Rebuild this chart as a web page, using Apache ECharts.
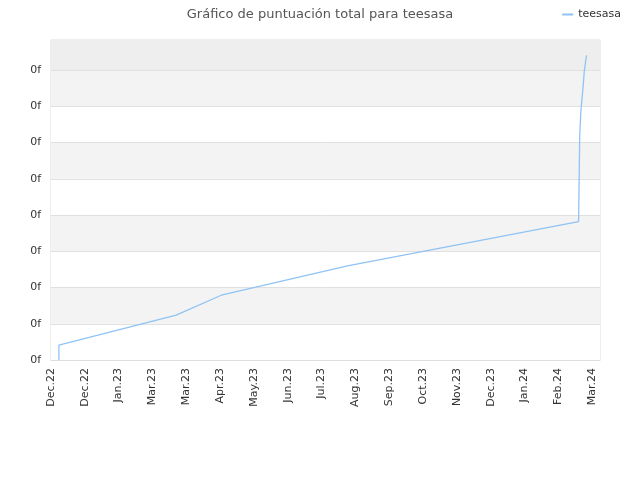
<!DOCTYPE html>
<html>
<head>
<meta charset="utf-8">
<script src="https://cdn.jsdelivr.net/npm/echarts@6/dist/echarts.min.js"></script>
<style>
	html, body { margin: 0; padding: 0; background: #fff; }
	#show { width: 640px; height: 480px; }
</style>
</head>
<body>
<div id="show"></div>
<script>
// fechas y puntuaciones
var fechas = ['2022-12-08', '2022-12-08', '2023-03-22', '2023-05-02', '2023-08-21',
	'2024-03-13', '2024-03-14', '2024-03-15', '2024-03-17', '2024-03-18', '2024-03-20'];
var puntos = [0, 0.41, 1.24, 1.80, 2.60, 3.82, 6.16, 6.85, 7.54, 7.95, 8.41];

var nombre = 'teesasa';
var titulo = 'Gráfico de puntuación total para teesasa';
var meses = ['Jan', 'Feb', 'Mar', 'Apr', 'May', 'Jun', 'Jul', 'Aug', 'Sep', 'Oct', 'Nov', 'Dec'];

var DIA = 86400000;
var origen = Date.UTC(2022, 11, 1);
var yMax = 8.83;

// dias desde el 1 de diciembre de 2022
function dias(s) {
	var p = s.split('-');
	return (Date.UTC(+p[0], +p[1] - 1, +p[2]) - origen) / DIA;
}

var datos = [];
for (var i = 0; i < fechas.length; i++) {
	datos.push([dias(fechas[i]), puntos[i]]);
}

var myEchart = echarts.init(document.getElementById('show'));

var option = {
	animation: false,
	textStyle: { fontFamily: 'DejaVu Sans' },
	title: {
		text: titulo,
		left: 'center',
		top: 3,
		textStyle: { color: '#555', fontSize: 13, fontWeight: 'normal' }
	},
	legend: {
		right: 14,
		top: 4,
		icon: 'rect',
		itemWidth: 11,
		itemHeight: 2,
		itemGap: 6,
		textStyle: { color: '#333', fontSize: 11 },
		data: [nombre]
	},
	grid: {
		left: 51,
		right: 40,
		top: 40,
		bottom: 120,
		show: true,
		borderColor: '#ddd',
		borderWidth: 1,
		containLabel: false
	},
	xAxis: {
		type: 'value',
		min: 0,
		max: 487,
		interval: 30,
		axisLine: { show: true, lineStyle: { color: '#ddd' } },
		axisTick: { show: false },
		splitLine: { show: false },
		axisLabel: {
			rotate: 90,
			margin: 8,
			color: '#333',
			fontSize: 11,
			showMaxLabel: false,
			formatter: function (v) {
				var d = new Date(origen + v * DIA);
				return meses[d.getUTCMonth()] + '.' + String(d.getUTCFullYear()).slice(2);
			}
		}
	},
	yAxis: {
		type: 'value',
		min: 0,
		max: yMax,
		interval: 1,
		axisLine: { show: false },
		axisTick: { show: false },
		splitLine: { show: true, lineStyle: { color: '#e0e0e0' } },
		splitArea: { show: true, areaStyle: { color: ['#ffffff', '#f3f3f3'] } },
		axisLabel: {
			color: '#333',
			fontSize: 11,
			margin: 10,
			showMaxLabel: false,
			formatter: function () { return '0f'; }
		}
	},
	series: [{
		name: nombre,
		type: 'line',
		data: datos,
		showSymbol: false,
		color: '#90c3f5',
		lineStyle: { width: 1.3, color: '#90c3f5' },
		markArea: {
			silent: true,
			itemStyle: { color: '#eeeeee' },
			data: [[{ yAxis: 8 }, { yAxis: yMax }]]
		}
	}]
};

myEchart.setOption(option);
</script>
</body>
</html>
